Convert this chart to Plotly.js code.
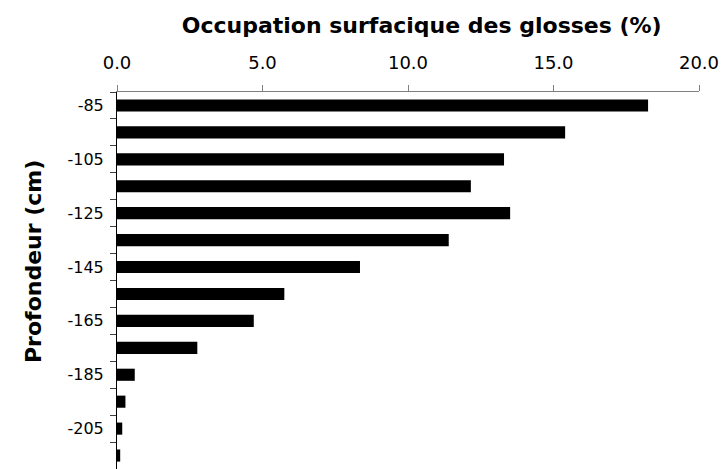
<!DOCTYPE html>
<html>
<head>
<meta charset="utf-8">
<script src="https://cdn.plot.ly/plotly-3.0.1.min.js"></script>
<style>html,body{margin:0;padding:0;background:#fff;}#chart{width:723px;height:469px;}</style>
</head>
<body>
<div id="chart"></div>
<script>
// Depth (cm) and surface occupation of glosses (%)
const depths = [-85, -95, -105, -115, -125, -135, -145, -155, -165, -175, -185, -195, -205, -215];
const occupation = [18.25, 15.40, 13.30, 12.16, 13.51, 11.40, 8.35, 5.75, 4.70, 2.76, 0.61, 0.29, 0.18, 0.11];
const yTickLabels = ["-85", "-105", "-125", "-145", "-165", "-185", "-205"];
const yTickValues = [-85, -105, -125, -145, -165, -185, -205];
const yBoundaries = [-80, -90, -100, -110, -120, -130, -140, -150, -160, -170, -180, -190, -200, -210, -220];
const xTickValues = [0, 5, 10, 15, 20];
const xTickLabels = ["0.0", "5.0", "10.0", "15.0", "20.0"];
const chartTitle = "Occupation surfacique des glosses (%)";
const yTitle = "Profondeur (cm)";

const font = "DejaVu Sans, Arial, sans-serif";
const plotLeft = 117, plotRight = 699, plotTop = 92, plotBottom = 469;
const plotW = plotRight - plotLeft, plotH = plotBottom - plotTop;

const traces = [{
  type: "bar",
  orientation: "h",
  x: occupation,
  y: depths,
  marker: {color: "#000000", line: {width: 0}},
  hoverinfo: "x+y"
}];

const layout = {
  width: 723,
  height: 469,
  margin: {l: plotLeft, r: 723 - plotRight, t: plotTop, b: 469 - plotBottom, pad: 0},
  paper_bgcolor: "#ffffff",
  plot_bgcolor: "#ffffff",
  showlegend: false,
  bargap: 0.55,
  font: {family: font, color: "#000000"},
  title: {
    text: "<b>" + chartTitle + "</b>",
    font: {family: font, size: 22, color: "#000000"},
    x: (421.7 - plotLeft) / plotW, xref: "paper", xanchor: "center",
    y: 1 - 25 / 469, yref: "container", yanchor: "middle"
  },
  xaxis: {
    side: "top",
    range: [0, 20],
    tickvals: xTickValues,
    ticktext: xTickLabels,
    ticks: "outside",
    ticklen: 6,
    tickcolor: "#808080",
    tickwidth: 1,
    showline: true,
    linecolor: "#808080",
    linewidth: 1,
    showgrid: false,
    zeroline: false,
    tickfont: {family: font, size: 18, color: "#000000"},
    ticklabelstandoff: 9,
    fixedrange: true
  },
  yaxis: {
    range: [-220, -80],
    tickvals: yTickValues,
    ticktext: yTickLabels,
    ticks: "",
    showline: true,
    linecolor: "#000000",
    linewidth: 1,
    showgrid: false,
    zeroline: false,
    tickfont: {family: font, size: 16, color: "#000000"},
    ticklabelstandoff: 9,
    minor: {
      tickmode: "array",
      tickvals: yBoundaries,
      ticks: "outside",
      ticklen: 6,
      tickcolor: "#404040",
      tickwidth: 1,
      showgrid: false
    },
    fixedrange: true
  },
  annotations: [{
    text: "<b>" + yTitle + "</b>",
    textangle: -90,
    xref: "paper", yref: "paper",
    x: (33 - plotLeft) / plotW, xanchor: "center",
    y: (plotBottom - 262) / plotH, yanchor: "middle",
    showarrow: false,
    font: {family: font, size: 22, color: "#000000"}
  }]
};

Plotly.newPlot("chart", traces, layout, {displayModeBar: false, staticPlot: true});
</script>
</body>
</html>
